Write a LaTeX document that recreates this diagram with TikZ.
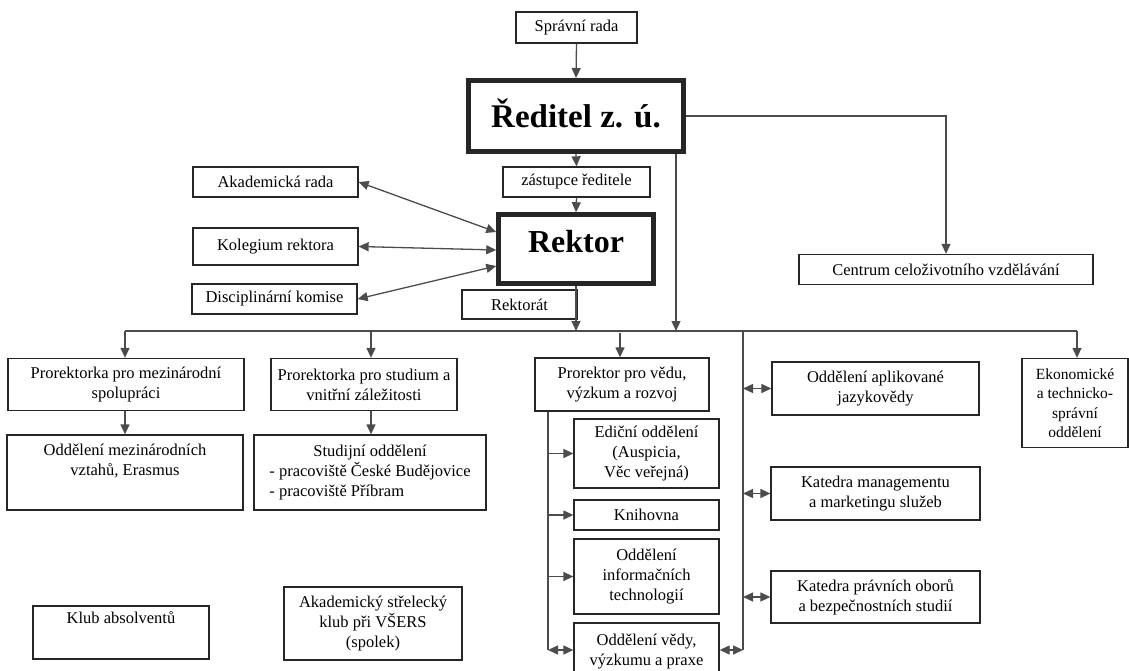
\documentclass[tikz,border=0pt]{standalone}
\usepackage{fontspec}
\setmainfont{Liberation Serif}
\usetikzlibrary{arrows.meta}
\tikzset{
  box/.style={draw=black!85, line width=1.3pt, fill=white, inner sep=0pt, align=center,
              font=\fontsize{16.5}{20}\selectfont, text=black},
  bigbox/.style={box, line width=5pt},
  conn/.style={draw=black!70, line width=1.3pt},
  arr/.style={conn, -{Triangle[length=10pt,width=9pt]}},
  darr/.style={conn, {Triangle[length=10pt,width=9pt]}-{Triangle[length=10pt,width=9pt]}},
  txt/.style={inner sep=0pt, align=center, font=\fontsize{16.5}{20}\selectfont, text=black}
}
\begin{document}
\begin{tikzpicture}[x=1pt,y=-1pt]
\useasboundingbox (0,0) rectangle (1129,671);
% top chain
\node[box, minimum width=121pt, minimum height=31pt] (sprava) at (576.5,27.5) {Správní rada};
\node[bigbox, minimum width=215pt, minimum height=71pt, font=\fontsize{33}{36}\selectfont\bfseries] (reditel) at (576,116) {\raisebox{5pt}{Ředitel z. ú.}};
\node[box, minimum width=147pt, minimum height=30pt] (zast) at (576.5,182) {zástupce ředitele};
\node[bigbox, line width=4.5pt, minimum width=155pt, minimum height=69pt, font=\fontsize{32}{36}\selectfont\bfseries] (rektor) at (576,249) {\raisebox{15pt}{Rektor}};
% left bodies
\node[box, minimum width=165pt, minimum height=30pt] (akad) at (275.5,182) {Akademická rada};
\node[box, minimum width=165pt, minimum height=37pt] (koleg) at (275.5,246.5) {Kolegium rektora};
\node[box, minimum width=165pt, minimum height=30pt] (disc) at (274.5,299) {Disciplinární komise};
\node[box, minimum width=115pt, minimum height=29pt] (rektorat) at (519.5,304.5) {Rektorát};
% centrum
\node[box, minimum width=294pt, minimum height=30pt] (centrum) at (946,269.5) {Centrum celoživotního vzdělávání};
% second level
\node[box, minimum width=236pt, minimum height=52pt] (prmez) at (126,384.5) {Prorektorka pro mezinárodní\\spolupráci};
\node[box, minimum width=186pt, minimum height=52pt] (prstud) at (364,384.5) {Prorektorka pro studium a\\vnitřní záležitosti};
\node[box, minimum width=174pt, minimum height=53pt] (prved) at (622,384.5) {Prorektor pro vědu,\\výzkum a rozvoj};
\node[box, minimum width=106pt, minimum height=89pt, font=\fontsize{15.5}{19.5}\selectfont] (ekon) at (1075,403) {Ekonomické\\a technicko-\\správní\\oddělení};
% third level left
\node[box, minimum width=236pt, minimum height=75pt] (oddmez) at (125,472.5) {};
\node[txt, anchor=north] at ([yshift=-9pt]oddmez.north) {Oddělení mezinárodních\\vztahů, Erasmus};
\node[box, minimum width=232pt, minimum height=75pt] (studodd) at (370,472.5) {};
\node[txt, anchor=north] at ([yshift=-8pt]studodd.north) {\begin{tabular}{@{}l@{}}\multicolumn{1}{@{}c@{}}{Studijní oddělení}\\- pracoviště České Budějovice\\- pracoviště Příbram\end{tabular}};
% vědu children
\node[box, minimum width=145pt, minimum height=69pt] (edic) at (646.5,453.5) {Ediční oddělení\\(Auspicia,\\Věc veřejná)};
\node[box, minimum width=145pt, minimum height=30pt] (knih) at (646.5,515) {Knihovna};
\node[box, minimum width=145pt, minimum height=75pt] (oddinf) at (646.5,576.5) {Oddělení\\informačních\\technologií};
\node[box, minimum width=145pt, minimum height=57pt] (oddved) at (646.5,651.5) {Oddělení vědy,\\výzkumu a praxe};
% right departments
\node[box, minimum width=207pt, minimum height=53pt] (oddapl) at (875.5,388.5) {Oddělení aplikované\\jazykovědy};
\node[box, minimum width=209pt, minimum height=53pt] (katm) at (875.5,493.5) {Katedra managementu\\a marketingu služeb};
\node[box, minimum width=209pt, minimum height=52pt] (katp) at (875.5,597) {Katedra právních oborů\\a bezpečnostních studií};
% clubs
\node[box, minimum width=176pt, minimum height=53pt] (klub) at (121,632.5) {};
\node[txt, anchor=north] at ([yshift=-6pt]klub.north) {Klub absolventů};
\node[box, minimum width=178pt, minimum height=73pt] (strel) at (373,623.5) {Akademický střelecký\\klub při VŠERS\\(spolek)};
% coordinates
\coordinate (busL) at (125,331);
\coordinate (busR) at (1077,331);
\coordinate (spR) at (743,331);
\coordinate (spRb) at (743,650);
\coordinate (spLb) at (548,650);
% connectors top
\draw[arr] (sprava.south) -- (reditel.north);
\draw[arr] (reditel.south) -- (zast.north);
\draw[arr] (zast.south) -- (rektor.north);
\draw[darr] (akad.east) -- ([yshift=17pt]rektor.west);
\draw[darr] (koleg.east) -- ([yshift=-1pt]rektor.west);
\draw[darr] (disc.east) -- ([yshift=-17pt]rektor.west);
\draw[arr] (rektor.south) -- (rektor.south |- busL);
\draw[arr] (reditel.south -| 676,0) -- (676,331);
\draw[arr] (reditel.east) -| (centrum.north);
% bus
\draw[conn] (busL) -- (busR);
\draw[arr] (busL) -- (busL |- prmez.north);
\draw[arr] (371,331) -- (371,0 |- prstud.north);
\draw[arr] (620,333) -- (620,0 |- prved.north);
\draw[arr] (busR) -- (busR |- ekon.north);
\draw[conn] (spR) -- (spRb);
% left subtrees
\draw[arr] (prmez.south -| busL) -- (oddmez.north -| busL);
\draw[arr] (371,0 |- prstud.south) -- (371,0 |- studodd.north);
% vědu spine
\draw[conn] (prved.south -| spLb) -- (spLb);
\draw[arr] (spLb |- edic.west) -- (edic.west);
\draw[arr] (spLb |- knih.west) -- (knih.west);
\draw[arr] (spLb |- oddinf.west) -- (oddinf.west);
\draw[darr] (spLb) -- (oddved.west |- spLb);
\draw[darr] (oddved.east |- spRb) -- (spRb);
% right spine
\draw[darr] (spR |- oddapl.west) -- (oddapl.west);
\draw[darr] (spR |- katm.west) -- (katm.west);
\draw[darr] (spR |- katp.west) -- (katp.west);
\end{tikzpicture}
\end{document}
